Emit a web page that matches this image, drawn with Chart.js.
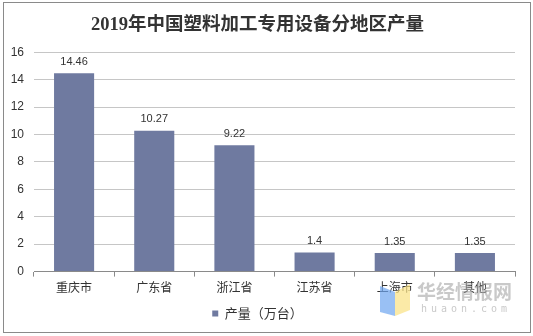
<!DOCTYPE html>
<html>
<head>
<meta charset="utf-8">
<script src="https://cdn.jsdelivr.net/npm/chart.js@4/dist/chart.umd.min.js"></script>
<style>
  html, body { margin: 0; padding: 0; background: #ffffff; }
  #wrap { width: 533px; height: 336px; position: relative; }
</style>
</head>
<body>
<div id="wrap"><canvas id="c" width="533" height="336"></canvas></div>
<script>
const titleText = '2019年中国塑料加工专用设备分地区产量';
const categories = ['重庆市', '广东省', '浙江省', '江苏省', '上海市', '其他'];
const seriesName = '产量（万台）';
const production = [14.46, 10.27, 9.22, 1.4, 1.35, 1.35];
const valueLabels = ['14.46', '10.27', '9.22', '1.4', '1.35', '1.35'];
const yTicks = [0, 2, 4, 6, 8, 10, 12, 14, 16];

const BAR_COLOR = '#6f7aa0';
const TEXT_COLOR = '#333333';
const SANS = '"Liberation Sans", Arial, "Noto Sans CJK SC", sans-serif';

const framePlugin = {
  id: 'frame',
  beforeDraw(chart) {
    const ctx = chart.ctx;
    ctx.save();
    ctx.fillStyle = '#ffffff';
    ctx.fillRect(0, 0, chart.width, chart.height);
    ctx.restore();
  },
  afterDraw(chart) {
    const ctx = chart.ctx;
    ctx.save();
    ctx.strokeStyle = '#8a8a8a';
    ctx.lineWidth = 1;
    ctx.strokeRect(3.5, 2.5, 527, 330);
    ctx.restore();
  }
};

const valueLabelPlugin = {
  id: 'valueLabels',
  afterDatasetsDraw(chart) {
    const ctx = chart.ctx;
    const meta = chart.getDatasetMeta(0);
    ctx.save();
    ctx.font = '11px ' + SANS;
    ctx.fillStyle = TEXT_COLOR;
    ctx.textAlign = 'center';
    ctx.textBaseline = 'bottom';
    meta.data.forEach((bar, i) => {
      ctx.fillText(valueLabels[i], bar.x, bar.y - 6);
    });
    ctx.restore();
  }
};

const watermarkPlugin = {
  id: 'watermark',
  afterDraw(chart) {
    const ctx = chart.ctx;
    ctx.save();
    // logo
    ctx.fillStyle = 'rgba(110,165,240,0.7)';
    ctx.beginPath();
    ctx.moveTo(380, 286); ctx.lineTo(395, 292); ctx.lineTo(395, 316); ctx.lineTo(380, 312); ctx.closePath();
    ctx.fill();
    ctx.fillStyle = 'rgba(250,225,130,0.7)';
    ctx.beginPath();
    ctx.moveTo(395, 292); ctx.lineTo(410, 284); ctx.lineTo(410, 310); ctx.lineTo(395, 316); ctx.closePath();
    ctx.fill();
    // text
    ctx.fillStyle = 'rgba(165,165,165,0.6)';
    ctx.textBaseline = 'middle';
    ctx.textAlign = 'left';
    ctx.font = 'bold 19px "Noto Sans CJK SC", sans-serif';
    ctx.fillText('华经情报网', 417, 292);
    ctx.font = '10px "DejaVu Sans Mono", monospace';
    const s = 'huaon.com';
    for (let i = 0; i < s.length; i++) {
      ctx.fillText(s[i], 421 + i * 10, 309);
    }
    ctx.restore();
  }
};

new Chart(document.getElementById('c'), {
  type: 'bar',
  data: {
    labels: categories,
    datasets: [{
      label: seriesName,
      data: production,
      backgroundColor: BAR_COLOR,
      borderWidth: 0,
      barPercentage: 0.5,
      categoryPercentage: 1.0
    }]
  },
  options: {
    responsive: false,
    animation: false,
    devicePixelRatio: 1,
    layout: { padding: { left: 0, right: 18, top: 14, bottom: 6 } },
    plugins: {
      title: {
        display: true,
        text: titleText,
        color: TEXT_COLOR,
        font: { family: '"Liberation Serif", "Noto Sans CJK SC", serif', size: 18.5, weight: 'bold', lineHeight: 1.2 },
        padding: { top: 0, bottom: 16 }
      },
      legend: {
        display: true,
        position: 'bottom',
        labels: {
          color: TEXT_COLOR,
          boxWidth: 6,
          boxHeight: 6,
          padding: 8,
          font: { family: '"Noto Sans CJK SC", sans-serif', size: 13 }
        }
      },
      tooltip: { enabled: false }
    },
    scales: {
      x: {
        grid: {
          display: true,
          drawOnChartArea: false,
          drawTicks: true,
          tickLength: 5,
          color: '#8a8a8a',
          offset: true
        },
        border: { display: true, color: '#8a8a8a' },
        ticks: {
          color: TEXT_COLOR,
          padding: 4,
          font: { family: '"Noto Sans CJK SC", sans-serif', size: 12 }
        }
      },
      y: {
        min: 0,
        max: 16,
        afterBuildTicks(scale) { scale.ticks = yTicks.map(v => ({ value: v })); },
        afterFit(scale) { scale.width = 34; },
        grid: {
          color: '#c6c6c6',
          drawTicks: false
        },
        border: { display: false },
        ticks: {
          color: TEXT_COLOR,
          padding: 10,
          font: { family: SANS, size: 12 }
        }
      }
    }
  },
  plugins: [framePlugin, valueLabelPlugin, watermarkPlugin]
});
</script>
</body>
</html>
